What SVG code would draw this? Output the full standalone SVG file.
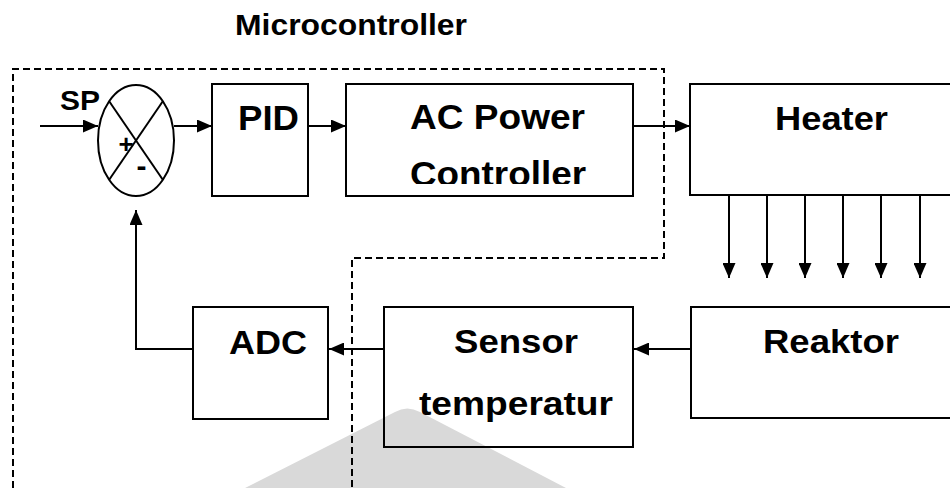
<svg xmlns="http://www.w3.org/2000/svg" width="950" height="488" viewBox="0 0 950 488">
<style>
.box{fill:none;stroke:#000;stroke-width:2}
.ln{fill:none;stroke:#000;stroke-width:2}
.dash{fill:none;stroke:#000;stroke-width:2;stroke-dasharray:7 4}
.t{font-family:"Liberation Sans",Arial,sans-serif;font-weight:bold;fill:#000}
</style>
<defs>
<marker id="ah" viewBox="0 0 15 13" refX="15" refY="6.5" markerWidth="15" markerHeight="13" orient="auto" markerUnits="userSpaceOnUse">
<path d="M0,0 L15,6.5 L0,13 Z" fill="#000"/>
</marker>
<clipPath id="clipAC"><rect x="346" y="84" width="287" height="100"/></clipPath>
</defs>
<rect width="950" height="488" fill="#fff"/>
<path d="M245,488 L395,412 Q407,405 420,412 L566,488 Z" fill="#d9d9d9"/>

<g id="microcontroller">
<path class="dash" d="M13,488 L13,69 L664,69 L664,258 L352,258 L352,488"/>
<text class="t" x="235" y="35" font-size="30" textLength="232" lengthAdjust="spacingAndGlyphs">Microcontroller</text>
</g>

<g id="summing">
<ellipse cx="136" cy="140.5" rx="38" ry="55.5" fill="none" stroke="#000" stroke-width="2"/>
<line class="ln" x1="109" y1="101" x2="163" y2="180"/>
<line class="ln" x1="163" y1="101" x2="109" y2="180"/>
<text class="t" x="126" y="153" font-size="26" text-anchor="middle">+</text>
<text class="t" x="141.5" y="176" font-size="30" text-anchor="middle">-</text>
<text class="t" x="60" y="110" font-size="28" textLength="40" lengthAdjust="spacingAndGlyphs">SP</text>
</g>

<g id="pid">
<rect class="box" x="212" y="84" width="96" height="112"/>
<text class="t" x="238" y="130" font-size="35" textLength="61" lengthAdjust="spacingAndGlyphs">PID</text>
</g>

<g id="ac-power">
<rect class="box" x="346" y="84" width="287" height="112"/>
<text class="t" x="410" y="129" font-size="35" textLength="175" lengthAdjust="spacingAndGlyphs">AC Power</text>
<text class="t" x="410" y="186" font-size="35" textLength="176" lengthAdjust="spacingAndGlyphs" clip-path="url(#clipAC)">Controller</text>
</g>

<g id="heater">
<rect class="box" x="690" y="84" width="270" height="111"/>
<text class="t" x="775" y="130" font-size="33" textLength="113" lengthAdjust="spacingAndGlyphs">Heater</text>
</g>

<g id="reaktor">
<rect class="box" x="691" y="307" width="270" height="111"/>
<text class="t" x="763" y="353" font-size="33" textLength="136" lengthAdjust="spacingAndGlyphs">Reaktor</text>
</g>

<g id="sensor">
<rect class="box" x="384" y="307" width="249" height="140"/>
<text class="t" x="454" y="353" font-size="33" textLength="124" lengthAdjust="spacingAndGlyphs">Sensor</text>
<text class="t" x="419" y="415" font-size="33" textLength="194" lengthAdjust="spacingAndGlyphs" fill="#222">temperatur</text>
</g>

<g id="adc">
<rect class="box" x="193" y="307" width="135" height="112"/>
<text class="t" x="229" y="354" font-size="33" textLength="78" lengthAdjust="spacingAndGlyphs">ADC</text>
</g>

<g id="connectors">
<line class="ln" x1="40" y1="126" x2="98" y2="126" marker-end="url(#ah)"/>
<line class="ln" x1="174" y1="126" x2="212" y2="126" marker-end="url(#ah)"/>
<line class="ln" x1="308" y1="126" x2="346" y2="126" marker-end="url(#ah)"/>
<line class="ln" x1="633" y1="126" x2="690" y2="126" marker-end="url(#ah)"/>
<line class="ln" x1="729" y1="195" x2="729" y2="278" marker-end="url(#ah)"/>
<line class="ln" x1="767" y1="195" x2="767" y2="278" marker-end="url(#ah)"/>
<line class="ln" x1="805" y1="195" x2="805" y2="278" marker-end="url(#ah)"/>
<line class="ln" x1="843" y1="195" x2="843" y2="278" marker-end="url(#ah)"/>
<line class="ln" x1="881" y1="195" x2="881" y2="278" marker-end="url(#ah)"/>
<line class="ln" x1="920" y1="195" x2="920" y2="278" marker-end="url(#ah)"/>
<line class="ln" x1="691" y1="349" x2="634" y2="349" marker-end="url(#ah)"/>
<line class="ln" x1="384" y1="349" x2="329" y2="349" marker-end="url(#ah)"/>
<polyline class="ln" points="193,349 136,349 136,210" marker-end="url(#ah)"/>
</g>
</svg>
